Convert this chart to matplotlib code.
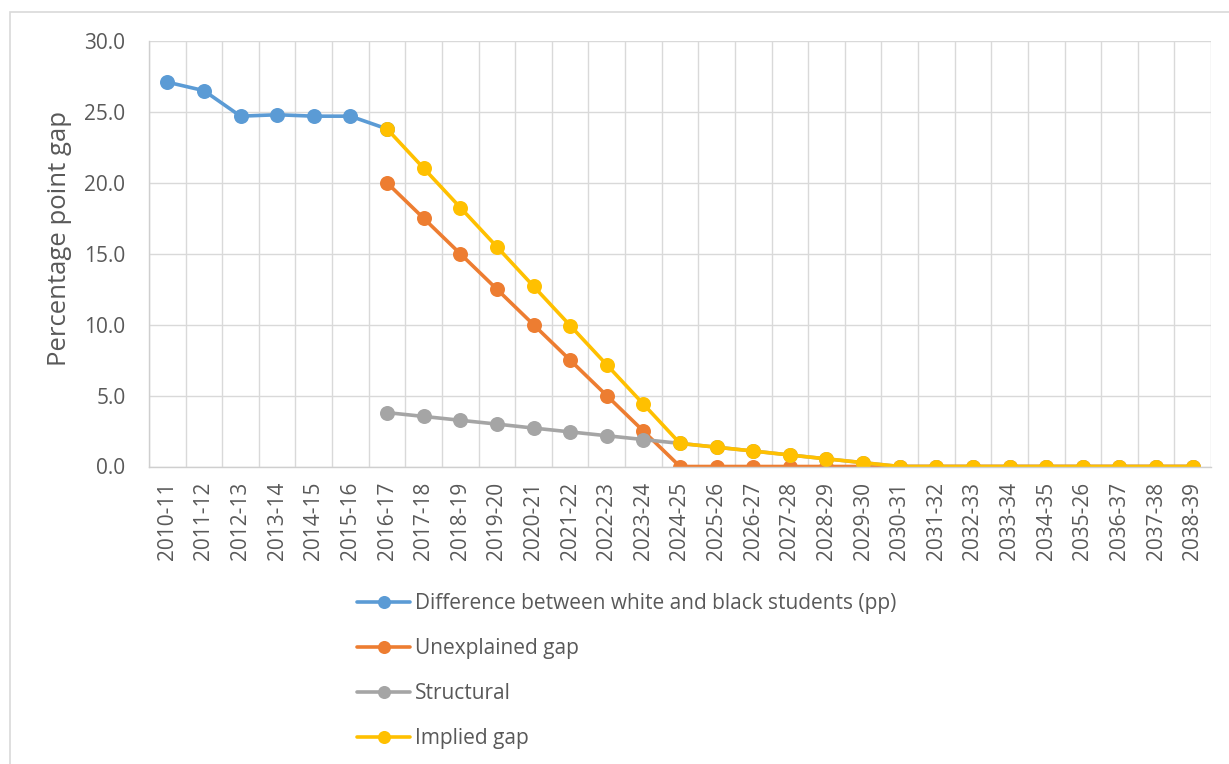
import numpy as np
import matplotlib
matplotlib.use("Agg")
import matplotlib.pyplot as plt
from matplotlib.patches import Rectangle

nan = np.nan

years = [
    "2010-11", "2011-12", "2012-13", "2013-14", "2014-15", "2015-16", "2016-17",
    "2017-18", "2018-19", "2019-20", "2020-21", "2021-22", "2022-23", "2023-24",
    "2024-25", "2025-26", "2026-27", "2027-28", "2028-29", "2029-30", "2030-31",
    "2031-32", "2032-33", "2033-34", "2034-35", "2035-26", "2036-37", "2037-38",
    "2038-39",
]

white_black_diff = [27.1, 26.5, 24.7, 24.8, 24.7, 24.7, 23.8] + [nan] * 22

unexplained = [nan] * 6 + [20.0, 17.5, 15.0, 12.5, 10.0, 7.5, 5.0, 2.5] + [0.0] * 15

structural = [nan] * 6 + [3.80, 3.53, 3.26, 2.99, 2.71, 2.44, 2.17, 1.90,
                          1.63, 1.36, 1.09, 0.81, 0.54, 0.27] + [0.0] * 9

implied = [nan] * 6 + [23.80, 21.03, 18.26, 15.49, 12.71, 9.94, 7.17, 4.40,
                       1.63, 1.36, 1.09, 0.81, 0.54, 0.27] + [0.0] * 9

series_labels = [
    "Difference between white and black students (pp)",
    "Unexplained gap",
    "Structural",
    "Implied gap",
]
series_colors = ["#5B9BD5", "#ED7D31", "#A5A5A5", "#FFC000"]

plt.rcParams["font.family"] = ["Open Sans", "DejaVu Sans"]
text_color = "#595959"
grid_color = "#D9D9D9"

W, H = 1229, 764
fig = plt.figure(figsize=(W / 100, H / 100), dpi=100)

# plot area in pixel coordinates
left, right, top, bottom = 149, 1211, 41, 466.5
ax = fig.add_axes([left / W, 1 - bottom / H, (right - left) / W, (bottom - top) / H])

x = np.arange(len(years))
for vals, lab, col in zip([white_black_diff, unexplained, structural, implied],
                          series_labels, series_colors):
    ax.plot(x, vals, color=col, lw=2.6, marker="o", markersize=10.8,
            markeredgewidth=0, label=lab, solid_capstyle="round")

ax.set_xlim(-0.5, len(years) - 0.5)
ax.set_ylim(0, 30)
ax.set_yticks(np.arange(0, 30.1, 5))
ax.set_yticklabels([f"{v:.1f}" for v in np.arange(0, 30.1, 5)])
ax.set_xticks(x)
ax.set_xticklabels(years, rotation=90)
ax.set_xticks(np.arange(-0.5, len(years), 1), minor=True)

ax.grid(axis="y", which="major", color=grid_color, lw=1.0)
ax.grid(axis="x", which="minor", color=grid_color, lw=1.0)
ax.set_axisbelow(True)

ax.tick_params(axis="both", which="both", length=0, labelsize=15, colors=text_color)
ax.tick_params(axis="y", pad=17)
ax.tick_params(axis="x", pad=11)

for side in ["top", "right"]:
    ax.spines[side].set_visible(False)
for side in ["left", "bottom"]:
    ax.spines[side].set_color("#CFCFCF")
    ax.spines[side].set_linewidth(1.0)

fig.text(60 / W, 1 - 238 / H, "Percentage point gap", rotation=90,
         ha="center", va="center", fontsize=18.5, color=text_color)

leg = fig.legend(loc="upper left", bbox_to_anchor=(357 / W, 1 - 593 / H),
                 frameon=False, fontsize=15, handlelength=2.55,
                 handletextpad=0.24, labelspacing=1.15, borderpad=0,
                 borderaxespad=0, markerscale=0.87)
for t in leg.get_texts():
    t.set_color(text_color)

# outer chart border
fig.add_artist(Rectangle((10 / W, -0.1), 1.5, 1 - 12 / H + 0.1,
                         transform=fig.transFigure, fill=False,
                         ec=grid_color, lw=1.2))

fig.savefig("out.png", dpi=100)
